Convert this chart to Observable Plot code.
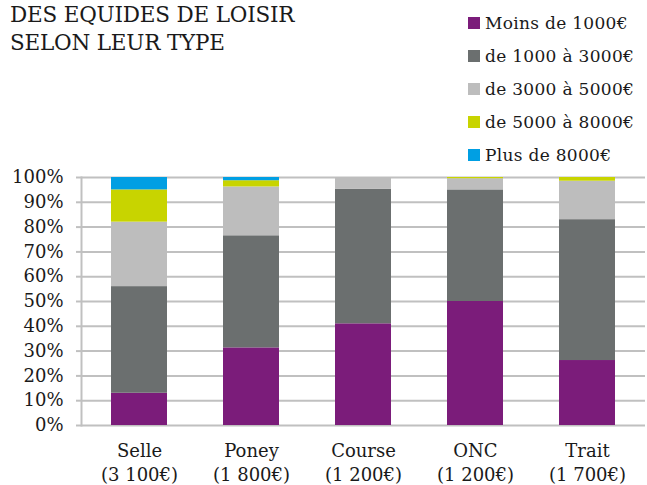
<!DOCTYPE html>
<html><head><meta charset="utf-8">
<script src="https://cdn.jsdelivr.net/npm/d3@7"></script>
<script src="https://cdn.jsdelivr.net/npm/@observablehq/plot@0.6"></script>
<style>
body{margin:0;background:#fff;}
#wrap{position:relative;width:647px;height:485px;font-family:"DejaVu Serif",serif;color:#1a1a1a;}
#title{position:absolute;left:10px;top:1px;font-size:21.5px;line-height:28px;letter-spacing:-0.2px;z-index:2;}
#legend{position:absolute;left:468px;top:6px;font-size:17px;letter-spacing:0.3px;z-index:2;}
.li{display:flex;align-items:center;height:33px;}
.sw{width:12px;height:12px;margin-right:5px;}
#chart{position:absolute;left:0;top:0;z-index:1;}
</style></head>
<body><div id="wrap"><div id="title">DES EQUIDES DE LOISIR<br>SELON LEUR TYPE</div><div id="legend"></div><div id="chart"></div></div>
<script>
const categories = ["Selle\n(3 100€)", "Poney\n(1 800€)", "Course\n(1 200€)", "ONC\n(1 200€)", "Trait\n(1 700€)"];
const seriesNames = ["Moins de 1000€", "de 1000 à 3000€", "de 3000 à 5000€", "de 5000 à 8000€", "Plus de 8000€"];
const colors = ["#7b1c7a", "#6b6f6f", "#bdbdbd", "#c8d400", "#009fe3"];
const moins1000 = [13, 31.3, 41, 50, 26.2];
const de1000a3000 = [43, 45.2, 54.3, 45, 56.8];
const de3000a5000 = [26, 19.7, 4.7, 4.5, 15.5];
const de5000a8000 = [13, 2.5, 0, 0.5, 1.5];
const plus8000 = [5, 1.3, 0, 0, 0];
const yTicks = [0, 10, 20, 30, 40, 50, 60, 70, 80, 90, 100];

const seriesValues = [moins1000, de1000a3000, de3000a5000, de5000a8000, plus8000];
const data = [];
seriesNames.forEach((s, i) => categories.forEach((c, j) => data.push({cat: c, series: s, value: seriesValues[i][j]})));

const leg = document.getElementById("legend");
seriesNames.forEach((s, i) => {
  const d = document.createElement("div"); d.className = "li";
  d.innerHTML = `<span class="sw" style="background:${colors[i]}"></span><span>${s}</span>`;
  leg.appendChild(d);
});

const chart = Plot.plot({
  width: 647, height: 485,
  marginTop: 177, marginBottom: 60, marginLeft: 81, marginRight: 2,
  style: {fontFamily: "DejaVu Serif, serif", fontSize: "17px", color: "#1a1a1a", background: "transparent"},
  x: {domain: categories, paddingInner: 0.5, paddingOuter: 0.25, label: null},
  y: {domain: [0, 100], label: null},
  color: {domain: seriesNames, range: colors},
  marks: [
    Plot.ruleY(yTicks, {stroke: "#c0c0c0", strokeWidth: 2}),
    Plot.axisY({ticks: yTicks, tickFormat: d => d + "%", tickSize: 5, tickPadding: 13, stroke: "#c0c0c0", strokeWidth: 2, strokeOpacity: 1, label: null, fontSize: 18}),
    Plot.frame({anchor: "left", stroke: "#c0c0c0", strokeWidth: 2}),
    Plot.barY(data, {x: "cat", y: "value", fill: "series", z: "series", order: seriesNames, inset: 0}),
    Plot.axisX({tickSize: 0, tickPadding: 14, label: null, lineHeight: 1.35, fontSize: 18})
  ]
});
document.getElementById("chart").appendChild(chart);
</script></body></html>
